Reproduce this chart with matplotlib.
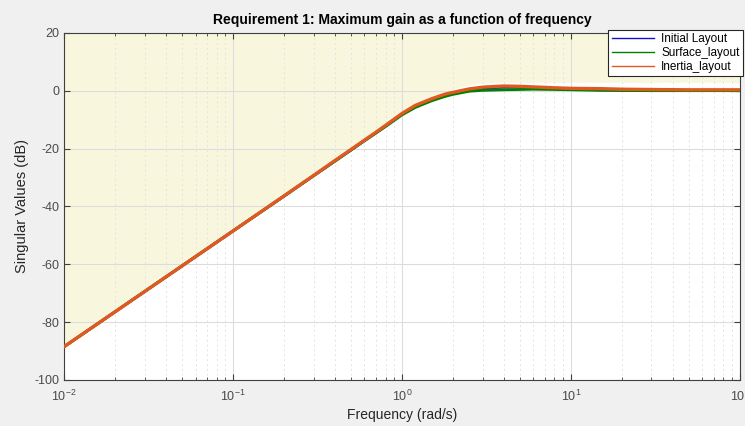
import numpy as np
import matplotlib.pyplot as plt
from matplotlib.ticker import LogLocator, FixedLocator

plt.rcParams['font.family'] = ['Liberation Sans', 'DejaVu Sans']
plt.rcParams['axes.unicode_minus'] = False

# frequency grid (rad/s)
freq = [0.01, 0.1, 0.2, 0.3, 0.4, 0.5, 0.6, 0.7, 0.8, 1.0, 1.2, 1.5, 1.8, 2.0,
        2.5, 3.0, 4.0, 5.0, 6.0, 8.0, 10, 15, 20, 30, 50, 100]

initial_db = [-88.5, -48.5, -36.5, -29.4, -24.4, -20.5, -17.3, -14.6, -12.2, -8.1,
              -5.4, -3.0, -1.4, -0.8, 0.4, 0.9, 1.2, 1.2, 1.0, 0.7, 0.5, 0.3,
              0.2, 0.1, 0.05, 0.0]
surface_db = [-88.5, -48.5, -36.5, -29.4, -24.4, -20.5, -17.3, -14.7, -12.4, -8.4,
              -5.8, -3.5, -2.0, -1.3, -0.2, 0.1, 0.3, 0.4, 0.5, 0.4, 0.3, 0.1,
              0.05, 0.0, 0.0, 0.0]
inertia_db = [-88.5, -48.5, -36.4, -29.3, -24.2, -20.3, -17.1, -14.4, -12.0, -7.9,
              -5.1, -2.8, -1.2, -0.6, 0.6, 1.2, 1.6, 1.5, 1.3, 1.0, 0.8, 0.7,
              0.5, 0.4, 0.3, 0.3]

# upper bound of the requirement (shaded region lies above it)
bound_freq = [0.01, 0.1, 0.3, 0.5, 0.7, 1.0, 1.5, 2.0, 2.5, 3.0, 4.0, 100]
bound_db = [-88.0, -48.0, -28.9, -19.8, -13.9, -7.4, -2.2, 0.6, 2.0, 2.7, 2.9, 2.9]

fig = plt.figure(figsize=(7.45, 4.26), dpi=100, facecolor='#f0f0f0')
ax = fig.add_axes([0.086, 0.108, 0.907, 0.815])
ax.set_facecolor('white')

ax.fill_between(bound_freq, bound_db, 20, color='#f8f7de', lw=0, zorder=0)

ax.plot(freq, initial_db, color='#1010d0', lw=2.0, label='Initial Layout', zorder=3)
ax.plot(freq, surface_db, color='#008000', lw=2.0, label='Surface_layout', zorder=3)
ax.plot(freq, inertia_db, color='#e05a20', lw=2.4, label='Inertia_layout', zorder=3)

ax.set_xscale('log')
ax.set_xlim(0.01, 100)
ax.set_ylim(-100, 20)
ax.yaxis.set_major_locator(FixedLocator([-100, -80, -60, -40, -20, 0, 20]))
ax.xaxis.set_major_locator(LogLocator(base=10, numticks=10))
ax.xaxis.set_minor_locator(LogLocator(base=10, subs=np.arange(2, 10), numticks=20))

ax.grid(True, which='major', color='#dcdcdc', lw=0.8, zorder=1)
ax.grid(True, which='minor', axis='x', color='#e4e4e4', lw=0.7, ls=(0, (2, 3)), zorder=1)
ax.set_axisbelow(True)

ax.tick_params(which='both', direction='in', top=True, right=True,
               colors='#404040', labelcolor='#4a4a4a', labelsize=9)
ax.tick_params(which='major', length=4)
ax.tick_params(which='minor', length=2.5)
ax.tick_params(axis='x', which='major', pad=6)
for s in ax.spines.values():
    s.set_color('#404040')
    s.set_linewidth(0.8)

ax.set_title('Requirement 1: Maximum gain as a function of frequency',
             fontsize=10, fontweight='bold', pad=6)
ax.set_xlabel('Frequency (rad/s)', fontsize=10, color='#262626', labelpad=3)
ax.set_ylabel('Singular Values (dB)', fontsize=10.5, color='#262626')

leg = ax.legend(loc='upper right', bbox_to_anchor=(0.9975, 0.93), bbox_transform=fig.transFigure,
                fontsize=8.5, fancybox=False, framealpha=1, edgecolor='#262626',
                handlelength=3.6, borderpad=0.3, labelspacing=0.15, handletextpad=0.6,
                borderaxespad=0)
for ln in leg.get_lines():
    ln.set_linewidth(1.0)
leg.get_frame().set_linewidth(0.8)
leg.set_zorder(5)

fig.savefig('out.png', dpi=100, facecolor=fig.get_facecolor())
